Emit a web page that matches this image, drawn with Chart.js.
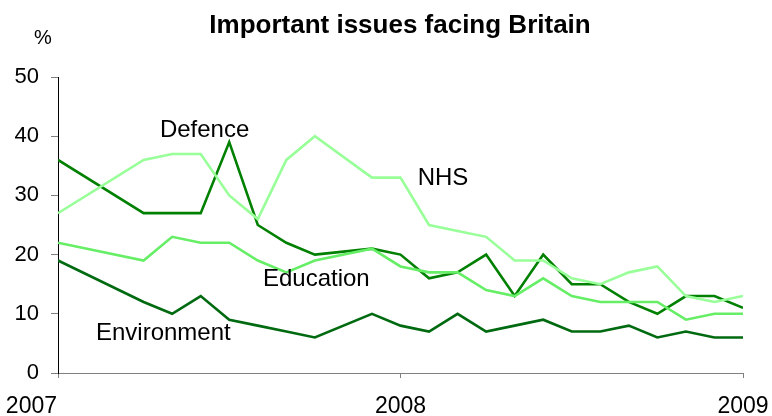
<!DOCTYPE html>
<html>
<head>
<meta charset="utf-8">
<title>Important issues facing Britain</title>
<script src="https://cdn.jsdelivr.net/npm/chart.js@4/dist/chart.umd.min.js"></script>
<style>
  html, body { margin: 0; padding: 0; background: #fff; }
  #wrap { width: 772px; height: 416px; }
</style>
</head>
<body>
<div id="wrap"><canvas id="issuesChart" width="772" height="416"></canvas></div>
<script>
// months since Jan 2007 (survey points; a few months have no reading)
var months = [0, 3, 4, 5, 6, 7, 8, 9, 11, 12, 13, 14, 15, 16, 17, 18, 19, 20, 21, 22, 23, 24];
var yearTicks = [2007, 2008, 2009];

var nhs = [27, 36, 37, 37, 30, 26, 36, 40, 33, 33, 25, 24, 23, 19, 19, 16, 15, 17, 18, 13, 12, 13];
var defence = [36, 27, 27, 27, 39, 25, 22, 20, 21, 20, 16, 17, 20, 13, 20, 15, 15, 12, 10, 13, 13, 11];
var education = [22, 19, 23, 22, 22, 19, 17, 19, 21, 18, 17, 17, 14, 13, 16, 13, 12, 12, 12, 9, 10, 10];
var environment = [19, 12, 10, 13, 9, 8, 7, 6, 10, 8, 7, 10, 7, 8, 9, 7, 7, 8, 6, 7, 6, 6];

// label text with the (month, %) spot its left baseline sits on
var seriesLabels = [
    { text: "Defence", x: 3.57, y: 39.9 },
    { text: "NHS", x: 12.6, y: 31.8 },
    { text: "Education", x: 7.18, y: 14.7 },
    { text: "Environment", x: 1.33, y: 5.6 }
];

var FONT = "Arial, 'Liberation Sans', sans-serif";

function points(values) {
    return months.map(function (m, i) { return { x: m, y: values[i] }; });
}

function series(label, values, color) {
    return {
        label: label,
        data: points(values),
        borderColor: color,
        backgroundColor: color,
        borderWidth: 2.6,
        pointRadius: 0,
        tension: 0,
        fill: false
    };
}

var labelsPlugin = {
    id: "seriesLabels",
    afterDatasetsDraw: function (chart) {
        var ctx = chart.ctx;
        var xs = chart.scales.x, ys = chart.scales.y;
        ctx.save();
        ctx.fillStyle = "#000";
        ctx.font = "24px " + FONT;
        ctx.textAlign = "left";
        ctx.textBaseline = "alphabetic";
        seriesLabels.forEach(function (l) {
            ctx.fillText(l.text, xs.getPixelForValue(l.x), ys.getPixelForValue(l.y));
        });

        // year labels under the x axis; the first one sits left of its tick
        ctx.font = "23px " + FONT;
        yearTicks.forEach(function (yr, i) {
            var px = xs.getPixelForValue((yr - 2007) * 12);
            ctx.textAlign = i === 0 ? "right" : "center";
            ctx.fillText(String(yr), i === 0 ? px - 1 : px, 413);
        });

        // heading and unit
        ctx.font = "bold 26px " + FONT;
        ctx.textAlign = "center";
        ctx.fillText("Important issues facing Britain", 400, 33);
        ctx.font = "20px " + FONT;
        ctx.fillText("%", 43, 44);
        ctx.restore();
    }
};

var chart = new Chart(document.getElementById("issuesChart"), {
    type: "line",
    data: {
        datasets: [
            series("NHS", nhs, "#99ff99"),
            series("Education", education, "#66ee66"),
            series("Environment", environment, "#006a10"),
            series("Defence", defence, "#008000")
        ]
    },
    options: {
        responsive: false,
        animation: false,
        events: [],
        layout: { padding: { left: 0, right: 29, top: 77, bottom: 0 } },
        plugins: {
            legend: { display: false },
            title: { display: false },
            tooltip: { enabled: false }
        },
        scales: {
            x: {
                type: "linear",
                min: 0,
                max: 24,
                afterFit: function (scale) { scale.height = 43; },
                afterBuildTicks: function (scale) {
                    scale.ticks = yearTicks.map(function (y) { return { value: (y - 2007) * 12 }; });
                },
                ticks: { display: false },
                grid: {
                    drawOnChartArea: false,
                    drawTicks: true,
                    tickLength: 5,
                    color: "#808080"
                },
                border: { display: true, color: "#808080", width: 1 }
            },
            y: {
                min: 0,
                max: 50,
                afterFit: function (scale) { scale.width = 58; },
                ticks: {
                    stepSize: 10,
                    color: "#000",
                    font: { family: FONT, size: 22 },
                    padding: 12
                },
                grid: {
                    drawOnChartArea: false,
                    drawTicks: true,
                    tickLength: 7,
                    color: "#808080"
                },
                border: { display: true, color: "#000", width: 1 }
            }
        }
    },
    plugins: [labelsPlugin]
});
</script>
</body>
</html>
